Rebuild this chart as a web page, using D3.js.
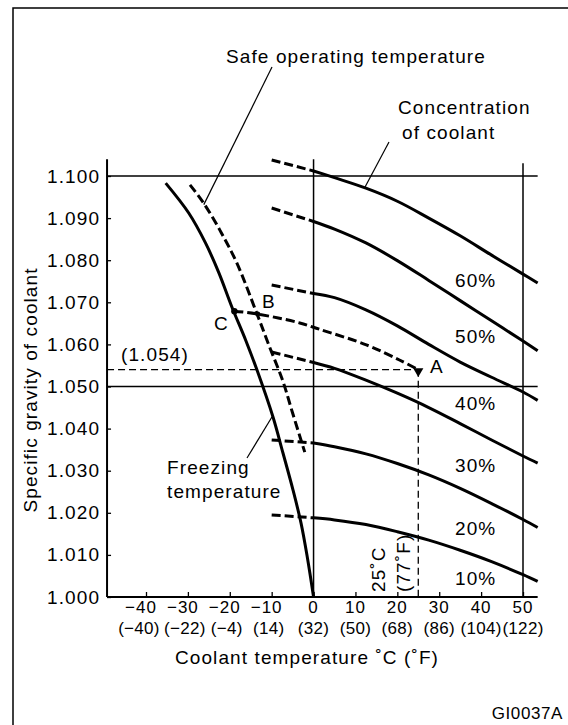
<!DOCTYPE html>
<html>
<head>
<meta charset="utf-8">
<script src="https://cdn.jsdelivr.net/npm/d3@7"></script>
<style>
  body { margin: 0; background: #fff; }
  text { font-family: "Liberation Sans", Arial, sans-serif; font-size: 19px; letter-spacing: 1.1px; fill: #000; }
</style>
</head>
<body>
<div id="chart"></div>
<script>
// coolant specific gravity chart
var concTemps = [-10, 0, 5, 12.5, 20, 27.5, 35, 42.5, 50, 53.5];
var conc60 = [1.1038, 1.1012, 1.0996, 1.0971, 1.0940, 1.0900, 1.0858, 1.0812, 1.0767, 1.0746];
var conc50 = [1.0924, 1.0892, 1.0874, 1.0841, 1.0799, 1.0752, 1.0704, 1.0656, 1.0608, 1.0585];
var conc40 = [1.0741, 1.0721, 1.0711, 1.0682, 1.0644, 1.0600, 1.0558, 1.0522, 1.0487, 1.0467];
var conc30 = [1.0582, 1.0557, 1.0543, 1.0515, 1.0484, 1.0450, 1.0412, 1.0373, 1.0335, 1.0318];
var conc20 = [1.0373, 1.0366, 1.0357, 1.0340, 1.0317, 1.0290, 1.0258, 1.0222, 1.0184, 1.0165];
var conc10 = [1.0195, 1.0188, 1.0183, 1.0172, 1.0155, 1.0135, 1.0111, 1.0084, 1.0053, 1.0037];
var concLabels = ['60%', '50%', '40%', '30%', '20%', '10%'];

var freezeTemps = [-35.3, -29.8, -25.8, -22.6, -19.5, -16.2, -13.5, -9.7, -7.3, -4.9, -3.0, -1.5, 0];
var freezeSG    = [1.0983, 1.0912, 1.0841, 1.0770, 1.0689, 1.0610, 1.0539, 1.0428, 1.0342, 1.0254, 1.0176, 1.0095, 1.0000];

var safeTemps = [-29.5, -26.4, -22.4, -18.3, -13.6, -10.5, -7.4, -5.0, -2.1];
var safeSG    = [1.0979, 1.0938, 1.0872, 1.0793, 1.0675, 1.0594, 1.0515, 1.0437, 1.0344];

// C -> B -> A
var pathTemps = [-18.9, -13.3, -3.3, 1.4, 12.6, 20.5, 25];
var pathSG    = [1.0679, 1.0672, 1.0651, 1.0636, 1.0599, 1.0563, 1.054];

var xTicks  = [-40, -30, -20, -10, 0, 10, 20, 30, 40, 50];
var xLabelsC = ['\u221240', '\u221230', '\u221220', '\u221210', '0', '10', '20', '30', '40', '50'];
var xLabelsF = ['(\u221240)', '(\u221222)', '(\u22124)', '(14)', '(32)', '(50)', '(68)', '(86)', '(104)', '(122)'];
var yTicks  = [1.000, 1.010, 1.020, 1.030, 1.040, 1.050, 1.060, 1.070, 1.080, 1.090, 1.100];
var yLabels = ['1.000', '1.010', '1.020', '1.030', '1.040', '1.050', '1.060', '1.070', '1.080', '1.090', '1.100'];

var width = 568, height = 725;
var xMin = -49.3, xMax = 53.5, yTop = 1.104;

var svg = d3.select('#chart').append('svg')
    .attr('width', width)
    .attr('height', height);

svg.append('rect')
    .attr('x', 13).attr('y', 8)
    .attr('width', 620).attr('height', 800)
    .attr('fill', 'white')
    .attr('stroke', 'black')
    .attr('stroke-width', 1.5);

var x = d3.scaleLinear().domain([-40, 50]).range([146, 523]);
var y = d3.scaleLinear().domain([1.000, 1.100]).range([597, 176]);

function hline(v, x0, x1, w) {
    svg.append('line')
        .attr('x1', x(x0)).attr('x2', x(x1))
        .attr('y1', y(v)).attr('y2', y(v))
        .attr('stroke', 'black').attr('stroke-width', w);
}
function vline(t, y0, y1, w) {
    svg.append('line')
        .attr('x1', x(t)).attr('x2', x(t))
        .attr('y1', y(y0)).attr('y2', y(y1))
        .attr('stroke', 'black').attr('stroke-width', w);
}

// frame lines of the chart
hline(1.100, xMin, xMax, 1.5);
hline(1.050, xMin, xMax, 1.5);
vline(0, 1.000, yTop, 1.5);
vline(50, 1.000, 1.103, 1.5);
vline(xMin, 1.000, yTop, 2);
hline(1.000, xMin, xMax, 2);

// ticks
var gx = svg.append('g')
    .attr('transform', 'translate(0,' + y(1.000) + ')')
    .call(d3.axisBottom(x).tickValues(xTicks).tickSizeInner(-5).tickSizeOuter(0).tickFormat(''));
gx.select('.domain').remove();
gx.selectAll('line').attr('stroke-width', 1.3);

var gy = svg.append('g')
    .attr('transform', 'translate(' + x(xMin) + ',0)')
    .call(d3.axisLeft(y).tickValues(yTicks).tickSizeInner(-4).tickSizeOuter(0)
        .tickPadding(7).tickFormat(function(d, i) { return yLabels[i]; }));
gy.select('.domain').remove();
gy.selectAll('line').attr('stroke-width', 1.3);
gy.selectAll('text')
    .attr('font-size', null).attr('font-family', null)
    .style('font-size', '19px');

svg.selectAll('.lc')
    .data(xTicks)
  .enter().append('text')
    .attr('x', function(d) { return x(d); })
    .attr('y', 613)
    .attr('dx', function(d) { return d < 0 ? -5 : 0; })
    .attr('text-anchor', 'middle')
    .style('font-size', '17px')
    .style('letter-spacing', '1px')
    .text(function(d, i) { return xLabelsC[i]; });

svg.selectAll('.lf')
    .data(xTicks)
  .enter().append('text')
    .attr('x', function(d) { return x(d); })
    .attr('y', 634)
    .attr('dx', function(d) { return d < -30 ? -7 : (d < 0 ? -3 : 0); })
    .attr('text-anchor', 'middle')
    .style('font-size', '17px')
    .style('letter-spacing', '0.3px')
    .text(function(d, i) { return xLabelsF[i]; });

svg.append('text')
    .attr('x', 307).attr('y', 664)
    .attr('text-anchor', 'middle')
    .text('Coolant temperature \u02DAC (\u02DAF)');

svg.append('text')
    .attr('transform', 'translate(36.5,390) rotate(-90)')
    .attr('text-anchor', 'middle')
    .text('Specific gravity of coolant');

svg.append('text')
    .attr('x', 563).attr('y', 719)
    .attr('text-anchor', 'end')
    .style('font-size', '17px')
    .style('letter-spacing', '0.6px')
    .text('GI0037A');

// 1.054 / 25 C reference lines
svg.append('line')
    .attr('x1', x(xMin)).attr('x2', x(25))
    .attr('y1', y(1.054)).attr('y2', y(1.054))
    .attr('stroke', 'black').attr('stroke-width', 1.3)
    .attr('stroke-dasharray', '7,4');
svg.append('line')
    .attr('x1', x(25)).attr('x2', x(25))
    .attr('y1', y(1.054)).attr('y2', y(1.000))
    .attr('stroke', 'black').attr('stroke-width', 1.3)
    .attr('stroke-dasharray', '7,4');

var line = d3.line()
    .x(function(d) { return x(d[0]); })
    .y(function(d) { return y(d[1]); })
    .curve(d3.curveCatmullRom.alpha(0.5));

function zip(ts, vs) {
    return ts.map(function(t, i) { return [t, vs[i]]; });
}

var series = [conc60, conc50, conc40, conc30, conc20, conc10];
series.forEach(function(s) {
    var pts = zip(concTemps, s);
    svg.append('path')
        .attr('d', line(pts.filter(function(p) { return p[0] <= 0; })))
        .attr('fill', 'none').attr('stroke', 'black')
        .attr('stroke-width', 3).attr('stroke-dasharray', '9,4');
    svg.append('path')
        .attr('d', line(pts.filter(function(p) { return p[0] >= 0; })))
        .attr('fill', 'none').attr('stroke', 'black')
        .attr('stroke-width', 3);
});

svg.append('path')
    .attr('d', line(zip(freezeTemps, freezeSG)))
    .attr('fill', 'none').attr('stroke', 'black').attr('stroke-width', 3);

svg.append('path')
    .attr('d', line(zip(safeTemps, safeSG)))
    .attr('fill', 'none').attr('stroke', 'black')
    .attr('stroke-width', 3).attr('stroke-dasharray', '9,4');

svg.append('path')
    .attr('d', line(zip(pathTemps, pathSG)))
    .attr('fill', 'none').attr('stroke', 'black')
    .attr('stroke-width', 3).attr('stroke-dasharray', '9,4');

// points C, B, A
svg.append('circle')
    .attr('cx', x(pathTemps[0])).attr('cy', y(pathSG[0])).attr('r', 3.2);
svg.append('circle')
    .attr('cx', x(pathTemps[1])).attr('cy', y(pathSG[1])).attr('r', 2.5);
svg.append('path')
    .attr('d', d3.symbol(d3.symbolTriangle, 45)())
    .attr('transform', 'translate(' + x(25) + ',' + (y(1.054) + 1.5) + ') rotate(180)');

// labels
var pctBase = [287, 343, 410, 472, 535, 585];
svg.selectAll('.pct')
    .data(concLabels)
  .enter().append('text')
    .attr('x', 455)
    .attr('y', function(d, i) { return pctBase[i]; })
    .text(function(d) { return d; });

function label(t, px, py, anchor) {
    svg.append('text')
        .attr('x', px).attr('y', py)
        .attr('text-anchor', anchor || 'start')
        .text(t);
}
label('A', 430, 373);
label('B', 262, 308);
label('C', 214, 330);
label('(1.054)', 121, 361);
label('Safe operating temperature', 356, 63, 'middle');
label('Concentration', 398, 114);
label('of coolant', 402, 139);
label('Freezing', 167, 474);
label('temperature', 167, 498);

svg.append('text')
    .attr('transform', 'translate(385,592) rotate(-90)')
    .text('25\u02DAC');
svg.append('text')
    .attr('transform', 'translate(410,592) rotate(-90)')
    .text('(77\u02DAF)');

// pointer lines
function pointer(px, py, t, v) {
    svg.append('line')
        .attr('x1', px).attr('y1', py)
        .attr('x2', x(t)).attr('y2', y(v))
        .attr('stroke', 'black').attr('stroke-width', 1.2);
}
pointer(272, 67, -26.2, 1.0932);
pointer(389, 142, 12.2, 1.0972);
pointer(247, 458, -9.9, 1.0428);
</script>
</body>
</html>
